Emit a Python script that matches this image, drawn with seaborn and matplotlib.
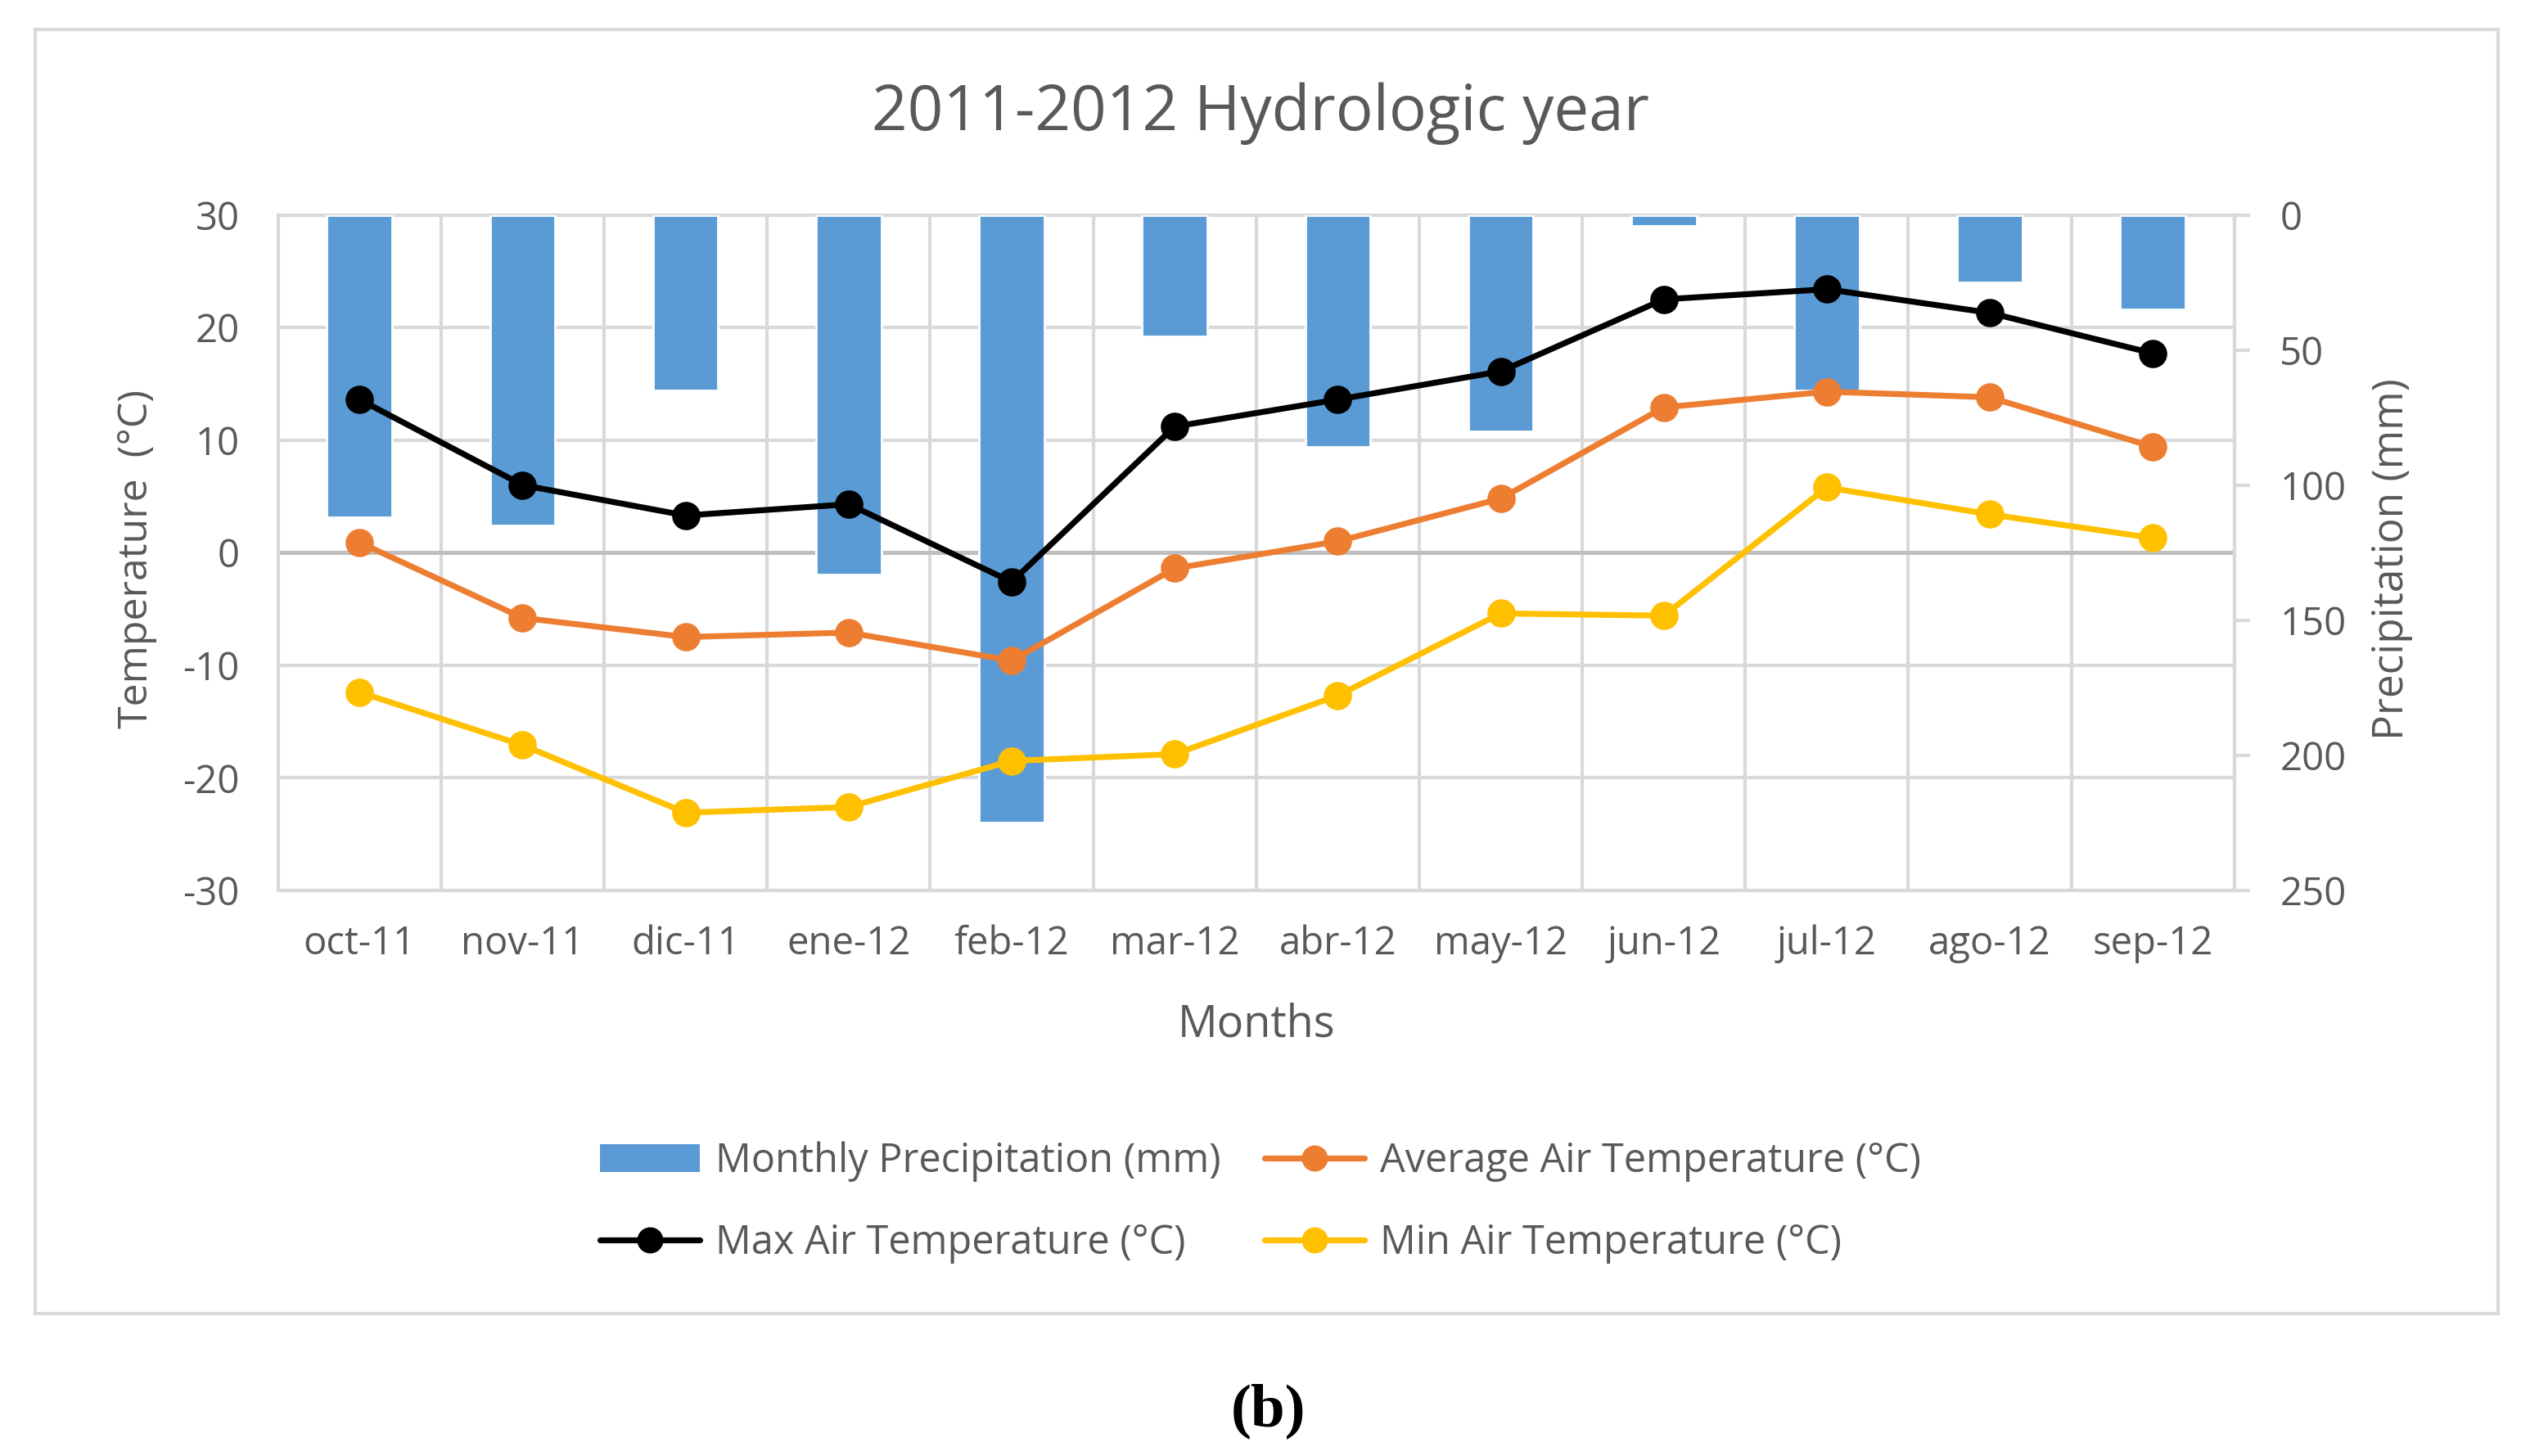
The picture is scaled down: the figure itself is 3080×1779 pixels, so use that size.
import matplotlib
matplotlib.use("Agg")
import matplotlib.pyplot as plt
import seaborn as sns
import numpy as np
from matplotlib.patches import Patch, Rectangle
from matplotlib.lines import Line2D

months = ["oct-11", "nov-11", "dic-11", "ene-12", "feb-12", "mar-12",
          "abr-12", "may-12", "jun-12", "jul-12", "ago-12", "sep-12"]
precip_mm = [112, 115, 65, 133, 225, 45, 86, 80, 4, 65, 25, 35]
t_avg = [0.9, -5.8, -7.5, -7.1, -9.6, -1.4, 1.0, 4.8, 12.9, 14.3, 13.8, 9.4]
t_max = [13.6, 6.0, 3.3, 4.3, -2.6, 11.2, 13.6, 16.1, 22.5, 23.4, 21.3, 17.7]
t_min = [-12.4, -17.1, -23.1, -22.6, -18.5, -17.9, -12.7, -5.4, -5.6, 5.8, 3.4, 1.3]

temp_ticks = [-30, -20, -10, 0, 10, 20, 30]
precip_ticks = [0, 50, 100, 150, 200, 250]

BLUE = "#5B9BD5"
ORANGE = "#ED7D31"
YELLOW = "#FFC000"
TXT = "#595959"
GRID = "#D9D9D9"

sns.set_theme(style="white")
plt.rcParams["font.family"] = ["Open Sans", "DejaVu Sans"]
plt.rcParams["axes.unicode_minus"] = False

fig = plt.figure(figsize=(15.4, 8.895), dpi=200)
ax = fig.add_axes([0.1103, 0.3885, 0.7760, 0.4639])
ax_p = ax.twinx()
ax_t = ax.twinx()

# precipitation bars hanging from the top (inverted right axis)
sns.barplot(x=months, y=precip_mm, color=BLUE, saturation=1, width=0.4, ax=ax_p)
ax_p.set_ylim(250, 0)
ax_p.set_yticks(precip_ticks)

# temperature lines
for vals, col in [(t_avg, ORANGE), (t_max, "black"), (t_min, YELLOW)]:
    sns.pointplot(x=months, y=vals, color=col, errorbar=None, markers="o",
                  markersize=10.5, linewidth=2.6, ax=ax_t)
ax_t.set_ylim(-30, 30)
ax_t.set_yticks([])
ax_t.set_ylabel("")
for s in ax_t.spines.values():
    s.set_visible(False)

# base axis: grid + left ticks
ax.set_ylim(-30, 30)
ax.set_yticks(temp_ticks)
ax.set_xlim(-0.5, len(months) - 0.5)
ax.set_xticks(range(len(months)))
ax.set_xticklabels(months)
ax.set_xticks(np.arange(0.5, len(months) - 1, 1), minor=True)
ax.grid(axis="y", which="major", color=GRID, lw=1.5)
ax.grid(axis="x", which="minor", color=GRID, lw=1.5)
ax.grid(axis="x", which="major", visible=False)
ax.axhline(0, color="#BFBFBF", lw=1.8, zorder=1)
for s in ax.spines.values():
    s.set_color(GRID)
    s.set_linewidth(1.5)
ax.tick_params(axis="y", length=0, pad=17, labelsize=17, labelcolor=TXT)
ax.tick_params(axis="x", which="both", length=0, pad=15, labelsize=17, labelcolor=TXT)

for s in ["left", "top", "bottom"]:
    ax_p.spines[s].set_visible(False)
ax_p.spines["right"].set_color(GRID)
ax_p.spines["right"].set_linewidth(1.5)
ax_p.tick_params(axis="y", right=True, length=7, width=1.5, color=GRID, pad=13,
                 labelsize=17, labelcolor=TXT)

ax.set_xlabel("Months", fontsize=19.5, color=TXT)
ax.xaxis.set_label_coords(0.5, -0.165)
ax.set_ylabel("Temperature  (°C)", fontsize=18, color=TXT)
ax.yaxis.set_label_coords(-0.062, 0.49)
ax_p.set_ylabel("Precipitation (mm)", fontsize=18.5, color=TXT, rotation=90)
ax_p.yaxis.set_label_coords(1.07, 0.49)

fig.text(0.5, 0.922, "2011-2012 Hydrologic year", ha="center", va="center",
         fontsize=27.5, color=TXT)

handles = [
    Patch(facecolor=BLUE, edgecolor="none"),
    Line2D([], [], color="black", marker="o", markersize=10.5, lw=2.6),
    Line2D([], [], color=ORANGE, marker="o", markersize=10.5, lw=2.6),
    Line2D([], [], color=YELLOW, marker="o", markersize=10.5, lw=2.6),
]
labels = ["Monthly Precipitation (mm)", "Max Air Temperature (°C)",
          "Average Air Temperature (°C)", "Min Air Temperature (°C)"]
leg = fig.legend(handles, labels, ncol=2, loc="center", bbox_to_anchor=(0.5, 0.174),
                 frameon=False, fontsize=17.5, handlelength=2.5, handletextpad=0.4,
                 columnspacing=1.1, labelspacing=1.05)
for t in leg.get_texts():
    t.set_color(TXT)

fig.patches.append(Rectangle((0.0141, 0.0977), 0.9769, 0.8823, transform=fig.transFigure,
                             fill=False, edgecolor=GRID, lw=1.5))

fig.text(0.503, 0.031, "(b)", ha="center", va="center", fontsize=27,
         fontweight="bold", family=["Liberation Serif", "DejaVu Serif"], color="black")

fig.savefig("out.png", dpi=200)
